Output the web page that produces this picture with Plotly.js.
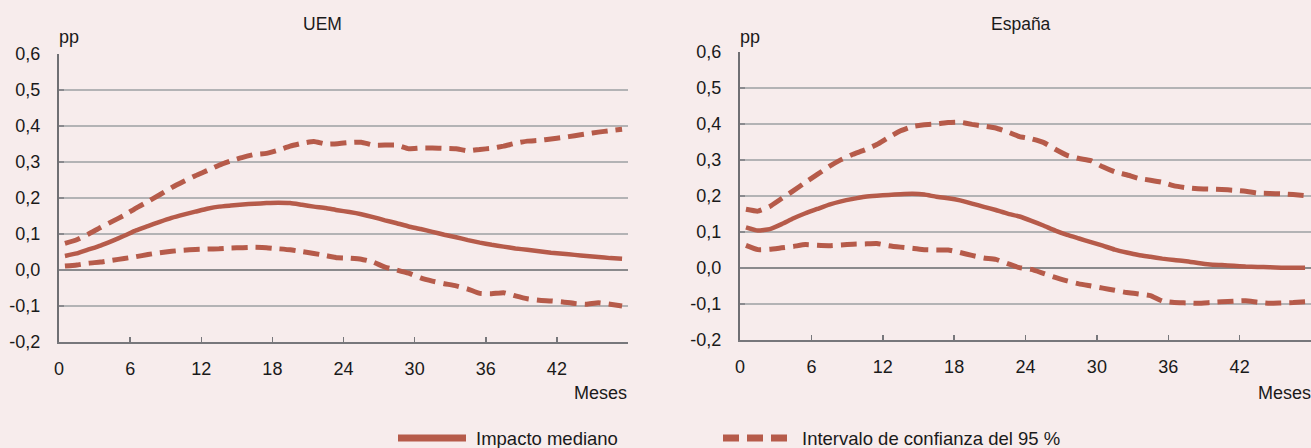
<!DOCTYPE html>
<html>
<head>
<meta charset="utf-8">
<script src="https://cdn.plot.ly/plotly-3.0.1.min.js"></script>
<style>
  html, body { margin: 0; padding: 0; background: #f7ecec; }
  #chart { width: 1311px; height: 448px; }
</style>
</head>
<body>
<div id="chart"></div>
<script>
// ---- Data ----
const months = Array.from({length: 48}, (_, i) => i + 0.5);

const uemMedian = [0.039,0.046,0.057,0.068,0.081,0.095,0.110,0.122,0.134,0.145,0.154,0.162,
  0.170,0.176,0.179,0.182,0.184,0.186,0.187,0.186,0.181,0.176,0.172,0.166,
  0.161,0.155,0.147,0.138,0.130,0.121,0.114,0.106,0.098,0.091,0.083,0.076,
  0.070,0.065,0.060,0.056,0.052,0.048,0.045,0.042,0.039,0.036,0.033,0.031];
const uemUpper = [0.074,0.084,0.100,0.118,0.135,0.152,0.172,0.190,0.209,0.229,0.246,0.262,
  0.276,0.291,0.303,0.313,0.321,0.324,0.333,0.344,0.352,0.357,0.350,0.351,
  0.354,0.355,0.347,0.347,0.347,0.337,0.339,0.339,0.338,0.337,0.331,0.335,
  0.338,0.344,0.352,0.358,0.360,0.364,0.368,0.373,0.378,0.383,0.387,0.391];
const uemLower = [0.011,0.014,0.019,0.022,0.027,0.032,0.037,0.043,0.048,0.052,0.055,0.057,
  0.058,0.059,0.061,0.062,0.063,0.062,0.059,0.056,0.051,0.046,0.040,0.034,
  0.033,0.030,0.022,0.008,0.000,-0.009,-0.022,-0.031,-0.038,-0.044,-0.053,-0.065,
  -0.066,-0.063,-0.072,-0.080,-0.084,-0.086,-0.089,-0.093,-0.095,-0.091,-0.095,-0.100];

const espMedian = [0.113,0.104,0.108,0.122,0.138,0.152,0.164,0.176,0.185,0.192,0.198,0.201,
  0.203,0.205,0.206,0.204,0.198,0.194,0.188,0.179,0.170,0.161,0.151,0.143,
  0.131,0.118,0.104,0.092,0.082,0.072,0.062,0.051,0.043,0.036,0.031,0.026,
  0.022,0.019,0.014,0.010,0.008,0.006,0.004,0.003,0.002,0.001,0.001,0.001];
const espUpper = [0.163,0.158,0.171,0.193,0.215,0.238,0.260,0.282,0.301,0.316,0.328,0.343,
  0.363,0.381,0.393,0.398,0.400,0.404,0.405,0.399,0.394,0.389,0.378,0.365,
  0.359,0.349,0.330,0.313,0.304,0.298,0.281,0.267,0.259,0.249,0.244,0.238,
  0.228,0.223,0.220,0.219,0.218,0.216,0.213,0.208,0.207,0.206,0.204,0.201];
const espLower = [0.063,0.051,0.052,0.056,0.060,0.065,0.063,0.062,0.064,0.066,0.067,0.068,
  0.062,0.058,0.055,0.051,0.050,0.050,0.043,0.035,0.028,0.024,0.012,0.001,
  -0.004,-0.015,-0.026,-0.036,-0.044,-0.050,-0.056,-0.062,-0.068,-0.072,-0.077,-0.092,
  -0.096,-0.097,-0.098,-0.096,-0.094,-0.092,-0.091,-0.095,-0.098,-0.097,-0.096,-0.094];

const xTickVals = [0, 6, 12, 18, 24, 30, 36, 42];
const xTickText = ['0', '6', '12', '18', '24', '30', '36', '42'];
const yTickVals = [-0.2, -0.1, 0, 0.1, 0.2, 0.3, 0.4, 0.5, 0.6];
const yTickText = ['-0,2', '-0,1', '0,0', '0,1', '0,2', '0,3', '0,4', '0,5', '0,6'];

const panelTitles = ['UEM', 'España'];
const unitLabel = 'pp';
const xLabel = 'Meses';
const legendLabels = ['Impacto mediano', 'Intervalo de confianza del 95 %'];

// ---- Styles ----
const W = 1311, H = 448;
const fx = p => p / W;
const fy = p => 1 - p / H;
const RED = '#b65b4a';
const BG = '#f7ecec';
const FONT = 'Liberation Sans, Arial, Helvetica, sans-serif';
const TXT = '#1a1a1a';
const DASH = '16px,8px';

function lineTrace(y, xa, ya, dashed) {
  return {
    x: months, y: y, xaxis: xa, yaxis: ya, type: 'scatter', mode: 'lines',
    line: {color: RED, width: dashed ? 5 : 4.5, dash: dashed ? DASH : 'solid', shape: 'spline', smoothing: 0.4},
    showlegend: false, hoverinfo: 'skip'
  };
}

const data = [
  lineTrace(uemUpper, 'x', 'y', true),
  lineTrace(uemLower, 'x', 'y', true),
  lineTrace(uemMedian, 'x', 'y', false),
  lineTrace(espUpper, 'x2', 'y2', true),
  lineTrace(espLower, 'x2', 'y2', true),
  lineTrace(espMedian, 'x2', 'y2', false)
];

function xAxis(domain, anchor) {
  return {
    domain: domain, anchor: anchor, range: [0, 48], fixedrange: true,
    tickmode: 'array', tickvals: xTickVals, ticktext: xTickText,
    ticks: 'inside', ticklen: 5, tickwidth: 1.5, tickcolor: '#77777b',
    showline: true, linecolor: '#77777b', linewidth: 2,
    showgrid: false, zeroline: false,
    tickfont: {family: FONT, size: 18, color: TXT},
    ticklabelstandoff: 9
  };
}
function yAxis(domain, anchor) {
  return {
    domain: domain, anchor: anchor, range: [-0.2, 0.6], fixedrange: true,
    tickmode: 'array', tickvals: yTickVals, ticktext: yTickText,
    ticks: 'inside', ticklen: 5, tickwidth: 1.5, tickcolor: '#8a8a8e',
    showline: true, linecolor: '#6f6f73', linewidth: 2,
    showgrid: true, gridcolor: '#b3b3b5', gridwidth: 1.2,
    zeroline: true, zerolinecolor: '#8a8a8c', zerolinewidth: 1.8,
    tickfont: {family: FONT, size: 18, color: TXT},
    ticklabelstandoff: 13
  };
}

const ann = (text, x, y, xanchor, size) => ({
  text: text, x: x, y: y, xref: 'paper', yref: 'paper',
  xanchor: xanchor, yanchor: 'middle', showarrow: false,
  font: {family: FONT, size: size || 18, color: TXT}
});

const layout = {
  width: W, height: H,
  margin: {l: 0, r: 0, t: 0, b: 0, pad: 0},
  paper_bgcolor: BG, plot_bgcolor: BG,
  showlegend: false,
  xaxis: xAxis([fx(59), fx(628)], 'y'),
  yaxis: yAxis([fy(342), fy(54)], 'x'),
  xaxis2: xAxis([fx(740), 1], 'y2'),
  yaxis2: yAxis([fy(340), fy(52)], 'x2'),
  annotations: [
    ann(panelTitles[0], fx(322), fy(24), 'center', 17.5),
    ann(panelTitles[1], fx(1021), fy(24), 'center', 17.5),
    ann(unitLabel, fx(57), fy(37), 'left', 18),
    ann(unitLabel, fx(738), fy(37), 'left', 18),
    ann(xLabel, fx(629), fy(393), 'right', 18),
    ann(xLabel, fx(1256), fy(393), 'left', 18),
    ann(legendLabels[0], fx(474), fy(438), 'left', 18.5),
    ann(legendLabels[1], fx(800), fy(438), 'left', 18.5)
  ],
  shapes: [
    {type: 'line', xref: 'paper', yref: 'paper', x0: fx(398), x1: fx(466), y0: fy(438), y1: fy(438),
     line: {color: RED, width: 7}},
    {type: 'line', xref: 'paper', yref: 'paper', x0: fx(723), x1: fx(789), y0: fy(438), y1: fy(438),
     line: {color: RED, width: 7, dash: DASH}}
  ]
};

Plotly.newPlot('chart', data, layout, {displayModeBar: false, staticPlot: true});
</script>
</body>
</html>
